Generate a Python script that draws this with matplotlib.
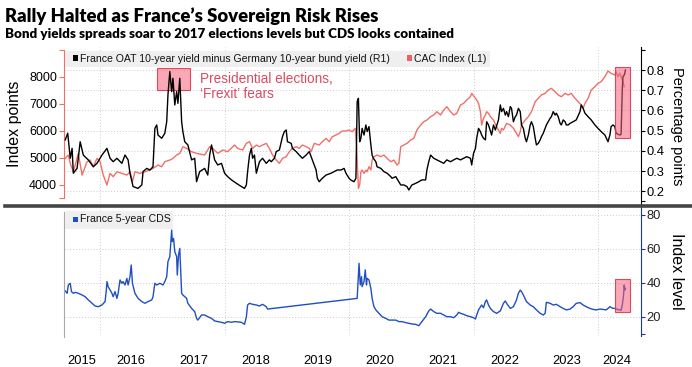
import matplotlib
matplotlib.use('Agg')
import matplotlib.pyplot as plt
from matplotlib.patches import Rectangle
import matplotlib.transforms as mtransforms

plt.rcParams['font.family'] = ['Liberation Sans', 'DejaVu Sans']

# ---------------- data ----------------
spread_years = [2015.44, 2015.48, 2015.52, 2015.55, 2015.57, 2015.63, 2015.68, 2015.73, 2015.81, 2015.89,
                2015.95, 2016.03, 2016.11, 2016.16, 2016.21, 2016.27, 2016.35, 2016.40, 2016.45, 2016.48,
                2016.53, 2016.61, 2016.67, 2016.69, 2016.75, 2016.80, 2016.85, 2016.88, 2016.91, 2016.93,
                2016.99, 2017.04, 2017.07, 2017.09, 2017.12, 2017.15, 2017.17, 2017.20, 2017.23, 2017.25,
                2017.28, 2017.31, 2017.33, 2017.36, 2017.41, 2017.47, 2017.52, 2017.55, 2017.60, 2017.68,
                2017.73, 2017.76, 2017.79, 2017.84, 2017.89, 2017.95, 2018.00, 2018.05, 2018.11, 2018.19,
                2018.27, 2018.32, 2018.35, 2018.37, 2018.40, 2018.43, 2018.45, 2018.48, 2018.51, 2018.56,
                2018.61, 2018.67, 2018.72, 2018.75, 2018.80, 2018.83, 2018.88, 2018.93, 2018.96, 2018.99,
                2019.01, 2019.07, 2019.09, 2019.15, 2019.20, 2019.25, 2019.31, 2019.36, 2019.39, 2019.41,
                2019.47, 2019.49, 2019.52, 2019.57, 2019.63, 2019.71, 2019.76, 2019.81, 2019.87, 2019.92,
                2019.95, 2020.00, 2020.03, 2020.08, 2020.11, 2020.13, 2020.15, 2020.17, 2020.19, 2020.21,
                2020.24, 2020.27, 2020.29, 2020.32, 2020.35, 2020.37, 2020.39, 2020.43, 2020.45, 2020.51,
                2020.56, 2020.61, 2020.67, 2020.69, 2020.75, 2020.80, 2020.83, 2020.88, 2020.93, 2020.96,
                2021.01, 2021.07, 2021.12, 2021.17, 2021.23, 2021.25, 2021.28, 2021.31, 2021.36, 2021.41,
                2021.47, 2021.52, 2021.57, 2021.63, 2021.68, 2021.73, 2021.79, 2021.84, 2021.89, 2021.95,
                2021.97, 2022.00, 2022.03, 2022.05, 2022.08, 2022.11, 2022.13, 2022.16, 2022.19, 2022.21,
                2022.24, 2022.29, 2022.32, 2022.35, 2022.40, 2022.43, 2022.45, 2022.48, 2022.51, 2022.53,
                2022.56, 2022.59, 2022.61, 2022.64, 2022.67, 2022.69, 2022.72, 2022.75, 2022.77, 2022.80,
                2022.83, 2022.85, 2022.88, 2022.91, 2022.93, 2022.96, 2022.99, 2023.01, 2023.04, 2023.07,
                2023.09, 2023.12, 2023.15, 2023.17, 2023.20, 2023.23, 2023.25, 2023.28, 2023.31, 2023.33,
                2023.36, 2023.39, 2023.41, 2023.44, 2023.47, 2023.49, 2023.52, 2023.55, 2023.60, 2023.65,
                2023.71, 2023.73, 2023.76, 2023.79, 2023.84, 2023.89, 2023.95, 2024.00, 2024.05, 2024.11,
                2024.16, 2024.19, 2024.21, 2024.24, 2024.27, 2024.29, 2024.35, 2024.37, 2024.39, 2024.40,
                2024.42, 2024.43, 2024.44]
spread_vals = [0.454, 0.487, 0.363, 0.412, 0.289, 0.313, 0.445, 0.379, 0.355, 0.321,
               0.338, 0.379, 0.412, 0.363, 0.346, 0.363, 0.338, 0.379, 0.355, 0.289,
               0.223, 0.214, 0.231, 0.297, 0.313, 0.305, 0.321, 0.511, 0.528, 0.478,
               0.462, 0.487, 0.544, 0.676, 0.792, 0.693, 0.759, 0.627, 0.693, 0.635,
               0.759, 0.544, 0.495, 0.445, 0.429, 0.355, 0.363, 0.247, 0.297, 0.313,
               0.280, 0.379, 0.429, 0.355, 0.330, 0.338, 0.289, 0.272, 0.256, 0.239,
               0.223, 0.214, 0.231, 0.297, 0.379, 0.412, 0.363, 0.379, 0.289, 0.346,
               0.363, 0.338, 0.355, 0.346, 0.363, 0.396, 0.404, 0.470, 0.495, 0.503,
               0.445, 0.437, 0.412, 0.396, 0.379, 0.363, 0.379, 0.396, 0.371, 0.355,
               0.305, 0.264, 0.247, 0.264, 0.280, 0.289, 0.297, 0.305, 0.305, 0.313,
               0.289, 0.264, 0.255, 0.247, 0.264, 0.643, 0.660, 0.445, 0.462, 0.511,
               0.478, 0.528, 0.495, 0.520, 0.429, 0.379, 0.363, 0.346, 0.321, 0.313,
               0.297, 0.289, 0.272, 0.264, 0.272, 0.247, 0.231, 0.231, 0.223, 0.206,
               0.231, 0.239, 0.247, 0.256, 0.256, 0.305, 0.346, 0.379, 0.363, 0.355,
               0.346, 0.338, 0.355, 0.346, 0.355, 0.363, 0.355, 0.363, 0.371, 0.363,
               0.330, 0.388, 0.412, 0.462, 0.511, 0.495, 0.478, 0.462, 0.454, 0.544,
               0.528, 0.478, 0.528, 0.503, 0.553, 0.627, 0.594, 0.610, 0.577, 0.594,
               0.569, 0.619, 0.610, 0.544, 0.569, 0.577, 0.610, 0.594, 0.528, 0.511,
               0.462, 0.445, 0.478, 0.528, 0.544, 0.520, 0.462, 0.429, 0.437, 0.454,
               0.470, 0.487, 0.511, 0.528, 0.544, 0.561, 0.569, 0.594, 0.577, 0.586,
               0.569, 0.536, 0.528, 0.553, 0.544, 0.528, 0.528, 0.536, 0.544, 0.553,
               0.594, 0.627, 0.610, 0.586, 0.569, 0.553, 0.528, 0.511, 0.495, 0.478,
               0.445, 0.478, 0.520, 0.528, 0.520, 0.487, 0.478, 0.481, 0.709, 0.767,
               0.775, 0.784, 0.800]

cac_years = [2015.44, 2015.49, 2015.52, 2015.57, 2015.60, 2015.65, 2015.71, 2015.79, 2015.84, 2015.89,
             2015.95, 2016.00, 2016.05, 2016.11, 2016.16, 2016.21, 2016.27, 2016.35, 2016.43, 2016.48,
             2016.52, 2016.56, 2016.64, 2016.72, 2016.80, 2016.85, 2016.93, 2016.99, 2017.04, 2017.12,
             2017.17, 2017.23, 2017.28, 2017.33, 2017.39, 2017.47, 2017.55, 2017.68, 2017.76, 2017.81,
             2017.89, 2017.97, 2018.05, 2018.16, 2018.21, 2018.29, 2018.35, 2018.40, 2018.45, 2018.51,
             2018.56, 2018.61, 2018.67, 2018.72, 2018.77, 2018.83, 2018.88, 2018.93, 2018.99, 2019.04,
             2019.09, 2019.15, 2019.20, 2019.25, 2019.31, 2019.36, 2019.39, 2019.44, 2019.52, 2019.57,
             2019.63, 2019.68, 2019.73, 2019.79, 2019.84, 2019.89, 2019.95, 2020.00, 2020.05, 2020.10,
             2020.12, 2020.15, 2020.17, 2020.19, 2020.21, 2020.24, 2020.27, 2020.29, 2020.32, 2020.35,
             2020.37, 2020.40, 2020.45, 2020.51, 2020.56, 2020.61, 2020.67, 2020.72, 2020.77, 2020.80,
             2020.83, 2020.88, 2020.93, 2020.99, 2021.04, 2021.09, 2021.15, 2021.20, 2021.25, 2021.31,
             2021.36, 2021.41, 2021.47, 2021.52, 2021.57, 2021.63, 2021.68, 2021.73, 2021.79, 2021.84,
             2021.89, 2021.95, 2021.97, 2022.03, 2022.05, 2022.08, 2022.11, 2022.13, 2022.16, 2022.19,
             2022.21, 2022.24, 2022.27, 2022.32, 2022.37, 2022.43, 2022.45, 2022.48, 2022.53, 2022.59,
             2022.64, 2022.69, 2022.72, 2022.75, 2022.77, 2022.83, 2022.88, 2022.93, 2022.96, 2022.99,
             2023.04, 2023.09, 2023.15, 2023.20, 2023.25, 2023.31, 2023.36, 2023.41, 2023.47, 2023.52,
             2023.57, 2023.63, 2023.68, 2023.73, 2023.76, 2023.79, 2023.84, 2023.89, 2023.95, 2024.00,
             2024.05, 2024.11, 2024.16, 2024.21, 2024.27, 2024.29, 2024.32, 2024.35, 2024.37, 2024.40,
             2024.42]
cac_vals = [4968, 5092, 4783, 4474, 4721, 5153, 4350, 4845, 4906, 4659,
            4968, 4845, 4350, 3980, 4412, 4289, 4474, 4412, 4350, 4474,
            4103, 4474, 4412, 4474, 4536, 4597, 4721, 4659, 4845, 4906,
            4968, 5092, 5153, 5400, 5338, 5215, 5153, 5092, 5400, 5338,
            5153, 5277, 5215, 5462, 5338, 5277, 5524, 5585, 5338, 5462,
            5400, 5462, 5524, 5338, 5092, 4906, 4783, 4968, 5030, 5215,
            5338, 5400, 5338, 5462, 5400, 5338, 5215, 5524, 5462, 5585,
            5709, 5585, 5771, 5833, 5894, 5981, 5981, 6018, 5956, 6080,
            5462, 3857, 3980, 4474, 4536, 4412, 4536, 4474, 4659, 4536,
            4906, 5030, 5092, 5030, 5092, 4968, 4845, 4906, 4721, 4783,
            5400, 5462, 5524, 5647, 5709, 6018, 6203, 6327, 6388, 6512,
            6574, 6697, 6574, 6759, 6882, 6697, 6574, 6635, 6944, 7006,
            7129, 7253, 7376, 7191, 7129, 7006, 6697, 6203, 6450, 6574,
            6697, 6635, 6512, 6388, 6141, 5894, 6080, 6018, 6265, 6203,
            6080, 5894, 5771, 5956, 6203, 6388, 6512, 6697, 6882, 7068,
            7191, 7315, 7376, 7500, 7562, 7438, 7315, 7253, 7376, 7315,
            7376, 7191, 7068, 6944, 6820, 7006, 7191, 7500, 7623, 7747,
            7809, 7994, 8204, 8117, 8056, 8179, 7994, 8117, 7994, 7809,
            7623]

cds_years = [2015.44, 2015.47, 2015.49, 2015.52, 2015.54, 2015.57, 2015.60, 2015.65, 2015.71, 2015.76,
             2015.81, 2015.87, 2015.92, 2015.97, 2016.03, 2016.08, 2016.10, 2016.11, 2016.13, 2016.16,
             2016.19, 2016.21, 2016.24, 2016.27, 2016.29, 2016.32, 2016.35, 2016.37, 2016.40, 2016.43,
             2016.45, 2016.48, 2016.50, 2016.52, 2016.56, 2016.61, 2016.67, 2016.72, 2016.77, 2016.83,
             2016.85, 2016.88, 2016.91, 2016.96, 2017.01, 2017.04, 2017.07, 2017.09, 2017.12, 2017.15,
             2017.16, 2017.18, 2017.20, 2017.23, 2017.24, 2017.26, 2017.28, 2017.30, 2017.31, 2017.33,
             2017.39, 2017.41, 2017.47, 2017.52, 2017.55, 2017.57, 2017.63, 2017.68, 2017.73, 2017.79,
             2017.84, 2017.89, 2017.95, 2018.00, 2018.05, 2018.11, 2018.16, 2018.21, 2018.27, 2018.32,
             2018.35, 2018.37, 2018.40, 2018.45, 2018.51, 2018.56, 2018.61, 2018.67, 2018.69, 2020.13,
             2020.16, 2020.18, 2020.20, 2020.21, 2020.24, 2020.26, 2020.28, 2020.29, 2020.32, 2020.35,
             2020.37, 2020.40, 2020.43, 2020.48, 2020.53, 2020.59, 2020.64, 2020.69, 2020.75, 2020.80,
             2020.85, 2020.91, 2020.96, 2021.01, 2021.07, 2021.12, 2021.17, 2021.23, 2021.28, 2021.31,
             2021.36, 2021.41, 2021.47, 2021.52, 2021.57, 2021.63, 2021.68, 2021.73, 2021.76, 2021.79,
             2021.84, 2021.89, 2021.95, 2022.00, 2022.03, 2022.05, 2022.08, 2022.13, 2022.16, 2022.19,
             2022.21, 2022.24, 2022.27, 2022.32, 2022.37, 2022.43, 2022.48, 2022.51, 2022.53, 2022.59,
             2022.64, 2022.69, 2022.72, 2022.75, 2022.77, 2022.80, 2022.85, 2022.91, 2022.96, 2023.01,
             2023.07, 2023.12, 2023.15, 2023.17, 2023.23, 2023.28, 2023.33, 2023.39, 2023.44, 2023.49,
             2023.55, 2023.60, 2023.65, 2023.71, 2023.76, 2023.81, 2023.87, 2023.92, 2023.97, 2024.03,
             2024.08, 2024.13, 2024.16, 2024.19, 2024.24, 2024.27, 2024.29, 2024.35, 2024.37, 2024.39,
             2024.41, 2024.42, 2024.43, 2024.44]
cds_vals = [35.2, 33.8, 38.7, 39.7, 34.8, 33.8, 34.4, 33.8, 32.8, 31.8,
            29.9, 27.9, 26.3, 25.9, 26.9, 28.9, 35.8, 40.7, 37.7, 35.8,
            33.8, 31.8, 34.8, 30.8, 33.8, 41.7, 39.7, 40.7, 38.7, 42.6,
            38.7, 43.6, 50.5, 39.7, 33.8, 30.8, 28.9, 27.9, 28.9, 29.9,
            31.8, 39.7, 38.7, 39.7, 38.7, 40.7, 43.6, 52.5, 55.4, 71.1,
            64.3, 66.2, 58.4, 55.4, 44.6, 56.4, 60.3, 41.7, 33.8, 32.8,
            30.8, 27.9, 24.9, 23.0, 19.0, 18.0, 21.0, 21.0, 20.0, 19.0,
            17.5, 17.1, 16.7, 16.1, 17.1, 16.7, 17.1, 16.9, 16.7, 15.5,
            20.0, 26.9, 27.9, 27.3, 26.9, 26.3, 27.3, 25.9, 24.5, 30.8,
            51.5, 38.7, 43.6, 37.7, 40.7, 47.6, 38.7, 42.6, 41.7, 36.7,
            30.8, 25.9, 24.0, 22.0, 20.0, 19.0, 18.0, 18.0, 18.0, 17.1,
            17.1, 16.5, 16.1, 15.7, 15.5, 14.7, 17.1, 20.0, 23.4, 24.5,
            23.0, 22.0, 22.0, 21.0, 20.0, 20.0, 19.4, 21.0, 22.6, 22.0,
            21.4, 20.6, 20.0, 19.4, 18.6, 21.0, 24.0, 26.9, 25.3, 28.9,
            29.9, 26.9, 24.9, 23.0, 22.0, 23.4, 27.9, 29.3, 27.9, 24.9,
            25.9, 29.9, 33.8, 35.7, 34.8, 32.8, 28.9, 26.9, 25.9, 24.0,
            22.0, 21.0, 22.0, 28.5, 27.9, 26.9, 27.3, 25.9, 24.9, 24.0,
            24.5, 25.9, 27.9, 28.3, 26.9, 25.9, 24.9, 24.3, 24.0, 24.5,
            24.3, 24.0, 24.9, 25.9, 24.9, 24.9, 24.5, 24.0, 23.8, 26.9,
            32.8, 38.7, 35.7, 36.7]

year_labels = ['2015', '2016', '2017', '2018', '2019', '2020', '2021', '2022', '2023', '2024']
year_label_pos = [2015.70, 2016.5, 2017.5, 2018.5, 2019.5, 2020.5, 2021.5, 2022.5, 2023.5, 2024.30]
grid_years = [2016, 2018, 2020, 2022, 2024]
cac_ticks = [4000, 5000, 6000, 7000, 8000]
spread_ticks = [0.2, 0.3, 0.4, 0.5, 0.6, 0.7, 0.8]
cds_ticks = [20, 40, 60, 80]

# highlight boxes (x range, y range)
box_2017 = (2016.91, 2017.44, 7500, 8300)      # on CAC axis
box_2024_top = (2024.28, 2024.52, 0.464, 0.813)  # on spread axis
box_2024_cds = (2024.28, 2024.51, 22.5, 42.3)    # on CDS axis

# ---------------- styling ----------------
C_CAC = '#f07068'
C_SPREAD = '#000000'
C_CDS = '#1f4fc0'
C_NAVY = '#1b3a8a'
C_GRID = '#cccccc'
C_ANNOT = '#dc4b64'
BOX_FACE = (0.96, 0.38, 0.48, 0.55)
BOX_EDGE = (0.86, 0.22, 0.32, 0.9)

W, H = 692, 367
def fx(px):
    return px / W
def fy(py):
    return 1 - py / H

fig = plt.figure(figsize=(W / 100, H / 100), dpi=100)
fig.patch.set_facecolor('white')

XL = (2015.42, 2024.69)
L, R = 64, 641

# ---- top panel ----
ax1 = fig.add_axes([fx(L), fy(205), fx(R) - fx(L), fy(47) - fy(205)])
ax1r = ax1.twinx()
ax1.set_xlim(*XL)
ax1.set_ylim(3241, 9093)
ax1r.set_ylim(0.1317, 0.9139)

for s in ['top', 'bottom', 'right']:
    ax1.spines[s].set_visible(False)
ax1.spines['left'].set_color(C_CAC)
ax1.spines['left'].set_bounds(3500, 9000)
for s in ['top', 'bottom', 'left']:
    ax1r.spines[s].set_visible(False)
ax1r.spines['right'].set_color('black')

ax1.set_xticks([])
ax1.set_yticks(cac_ticks)
ax1.set_yticks([3500, 9000], minor=True)
ax1.tick_params(axis='y', which='both', direction='out', length=3.5, width=0.8, color=C_CAC,
                labelsize=9, pad=1.5, labelcolor='black')
ax1r.set_yticks(spread_ticks)
ax1r.set_yticks([0.15, 0.9], minor=True)
ax1r.set_yticklabels([f'{t:.1f}' for t in spread_ticks])
ax1r.tick_params(axis='y', which='both', direction='out', length=3, width=0.8, color='black',
                 labelsize=9.3, pad=1)

# grid (drawn in ax1 so they sit under the lines)
blend = mtransforms.blended_transform_factory(ax1.transAxes, ax1r.transData)
for t in spread_ticks:
    ax1.plot([0, 1], [t, t], transform=blend, color=C_GRID, lw=0.7, ls=(0, (1, 2)), zorder=0.5)
for g in grid_years:
    ax1.axvline(g, color=C_GRID, lw=0.7, ls=(0, (1, 2)), zorder=0.5)

ax1.plot(cac_years, cac_vals, color=C_CAC, lw=1.0, zorder=2)
ax1r.plot(spread_years, spread_vals, color=C_SPREAD, lw=1.0, zorder=2)

ax1.add_patch(Rectangle((box_2017[0], box_2017[2]), box_2017[1] - box_2017[0], box_2017[3] - box_2017[2],
                        facecolor=BOX_FACE, edgecolor=BOX_EDGE, lw=0.8, zorder=5))
ax1r.add_patch(Rectangle((box_2024_top[0], box_2024_top[2]), box_2024_top[1] - box_2024_top[0],
                         box_2024_top[3] - box_2024_top[2],
                         facecolor=BOX_FACE, edgecolor=BOX_EDGE, lw=0.8, zorder=5))

# ---- bottom panel ----
ax2 = fig.add_axes([fx(L), fy(336), fx(R) - fx(L), fy(207) - fy(336)])
ax2.set_xlim(*XL)
ax2.set_ylim(8.61, 84.72)
ax2.yaxis.tick_right()
ax2.spines['top'].set_visible(False)
ax2.spines['bottom'].set_visible(False)
ax2.spines['left'].set_color('#a8a8a8')
ax2.spines['left'].set_bounds(8.2, 82)
ax2.spines['right'].set_color(C_NAVY)
ax2.set_yticks(cds_ticks)
ax2.set_yticks([10], minor=True)
ax2.tick_params(axis='y', which='both', direction='out', length=3, width=0.8, color=C_NAVY,
                labelsize=9.3, pad=1, labelcolor='#222222')
ax2.set_xticks(year_label_pos)
ax2.set_xticklabels(year_labels)
ax2.tick_params(axis='x', length=0, labelsize=9.3, pad=14)

for t in cds_ticks:
    ax2.axhline(t, color=C_GRID, lw=0.7, ls=(0, (1, 2)), zorder=0.5)
for g in grid_years:
    ax2.axvline(g, color=C_GRID, lw=0.7, ls=(0, (1, 2)), zorder=0.5)

ax2.plot(cds_years, cds_vals, color=C_CDS, lw=1.0, zorder=2)
ax2.add_patch(Rectangle((box_2024_cds[0], box_2024_cds[2]), box_2024_cds[1] - box_2024_cds[0],
                        box_2024_cds[3] - box_2024_cds[2],
                        facecolor=BOX_FACE, edgecolor=BOX_EDGE, lw=0.8, zorder=5))

# ---- separator ----
fig.add_artist(plt.Line2D([fx(5), 1.0], [fy(206), fy(206)], transform=fig.transFigure,
                          color='#454545', lw=2.6))

# ---- legends ----
fig.add_artist(Rectangle((fx(65), fy(66.5)), fx(490) - fx(65), (66.5 - 51.5) / H,
                         transform=fig.transFigure, facecolor='#efefef', edgecolor='none'))
fig.add_artist(Rectangle((fx(72.5), fy(61)), 5 / W, 5.5 / H, transform=fig.transFigure,
                         facecolor='black', edgecolor='none'))
fig.text(fx(80), fy(58.5), 'France OAT 10-year yield minus Germany 10-year bund yield (R1)',
         fontsize=7.6, va='center', ha='left', color='#111111')
fig.add_artist(Rectangle((fx(406.5), fy(61)), 5 / W, 5.5 / H, transform=fig.transFigure,
                         facecolor='#f06060', edgecolor='none'))
fig.text(fx(414), fy(58.5), 'CAC Index (L1)', fontsize=7.6, va='center', ha='left', color='#111111')

fig.add_artist(Rectangle((fx(65), fy(228.5)), fx(173) - fx(65), (228.5 - 210.5) / H,
                         transform=fig.transFigure, facecolor='#efefef', edgecolor='none'))
fig.add_artist(Rectangle((fx(72.5), fy(222)), 5 / W, 5.5 / H, transform=fig.transFigure,
                         facecolor=C_CDS, edgecolor='none'))
fig.text(fx(80), fy(219.5), 'France 5-year CDS', fontsize=7.6, va='center', ha='left', color='#111111')

# ---- annotation ----
fig.text(fx(200), fy(82.7), 'Presidential elections,', fontsize=9.8, color=C_ANNOT,
         va='baseline', ha='left')
fig.text(fx(200), fy(97.5), '‘Frexit’ fears', fontsize=9.8, color=C_ANNOT, va='baseline', ha='left')

# ---- axis titles ----
fig.text(fx(14.5), fy(124), 'Index points', rotation=90, fontsize=11.5, va='center', ha='center')
fig.text(fx(676.5), fy(126), 'Percentage points', rotation=-90, fontsize=10.5, va='center', ha='center')
fig.text(fx(676.5), fy(271.5), 'Index level', rotation=-90, fontsize=11.5, va='center', ha='center')

# ---- titles ----
TFONT = ['Lato', 'DejaVu Sans']
fig.text(fx(5), fy(22), 'Rally Halted as France’s Sovereign Risk Rises', fontsize=13.3,
         fontweight='heavy', family=TFONT, va='baseline', ha='left')
fig.text(fx(5), fy(37.5), 'Bond yields spreads soar to 2017 elections levels but CDS looks contained',
         fontsize=9.65, fontweight='heavy', family=TFONT, va='baseline', ha='left')

fig.savefig('out.png', dpi=100)
